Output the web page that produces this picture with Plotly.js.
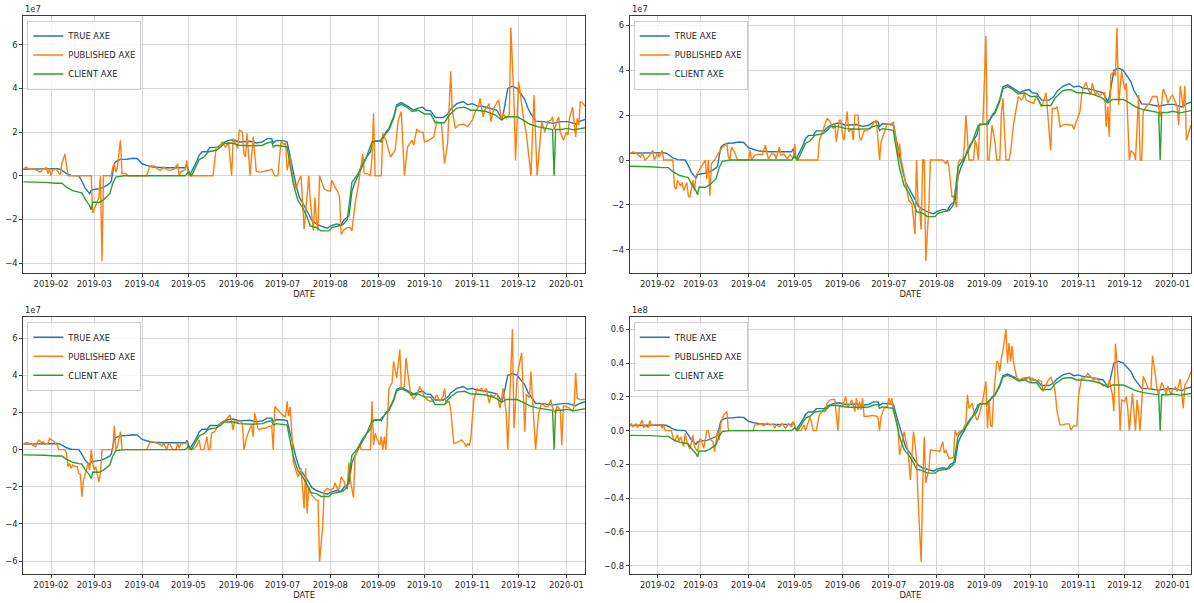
<!DOCTYPE html>
<html><head><meta charset="utf-8">
<script src="https://cdn.plot.ly/plotly-3.0.1.min.js"></script>
<style>html,body{margin:0;padding:0;background:#fff;}#chart{width:1194px;height:603px;}</style>
</head><body><div id="chart"></div>
<script>
// values in units of 1e7
const trueDates = ['2019-01-14','2019-01-21','2019-01-28','2019-02-05','2019-02-07','2019-02-11','2019-02-14','2019-02-19','2019-02-21','2019-02-23','2019-02-26','2019-02-27','2019-03-01','2019-03-05','2019-03-08','2019-03-11','2019-03-12','2019-03-14','2019-03-15','2019-03-18','2019-03-22','2019-03-26','2019-03-29','2019-04-01','2019-04-04','2019-04-08','2019-04-15','2019-04-22','2019-04-29','2019-04-30','2019-05-02','2019-05-06','2019-05-08','2019-05-10','2019-05-13','2019-05-15','2019-05-20','2019-05-23','2019-05-27','2019-05-30','2019-06-03','2019-06-10','2019-06-14','2019-06-18','2019-06-21','2019-06-24','2019-06-25','2019-06-27','2019-07-02','2019-07-04','2019-07-05','2019-07-08','2019-07-10','2019-07-12','2019-07-15','2019-07-18','2019-07-20','2019-07-23','2019-07-26','2019-07-30','2019-08-01','2019-08-05','2019-08-08','2019-08-10','2019-08-13','2019-08-15','2019-08-17','2019-08-19','2019-08-21','2019-08-23','2019-08-27','2019-08-29','2019-09-02','2019-09-03','2019-09-06','2019-09-08','2019-09-11','2019-09-13','2019-09-16','2019-09-18','2019-09-21','2019-09-24','2019-09-27','2019-09-30','2019-10-02','2019-10-05','2019-10-08','2019-10-13','2019-10-16','2019-10-18','2019-10-22','2019-10-26','2019-10-29','2019-11-01','2019-11-04','2019-11-08','2019-11-12','2019-11-17','2019-11-20','2019-11-21','2019-11-24','2019-11-27','2019-11-30','2019-12-02','2019-12-05','2019-12-07','2019-12-09','2019-12-12','2019-12-17','2019-12-23','2019-12-29','2020-01-02','2020-01-07','2020-01-10','2020-01-13'];
const trueValues = [0.30,0.32,0.33,0.33,0.30,0.10,0.02,0.00,-0.25,-0.55,-0.82,-0.65,-0.62,-0.58,-0.48,-0.35,-0.25,0.55,0.65,0.75,0.76,0.80,0.78,0.55,0.48,0.40,0.37,0.36,0.37,0.50,0.05,0.60,0.95,1.10,1.10,1.30,1.30,1.50,1.62,1.65,1.55,1.58,1.50,1.55,1.70,1.70,1.50,1.62,1.60,1.55,1.20,0.20,-0.50,-1.00,-1.35,-1.75,-2.05,-2.20,-2.30,-2.40,-2.30,-2.20,-2.25,-2.00,-1.85,-0.70,-0.30,0.00,0.45,0.70,1.10,1.60,1.60,1.55,2.00,2.17,2.70,3.25,3.35,3.25,3.14,3.00,3.10,3.14,3.00,2.97,2.67,2.67,2.83,3.05,3.30,3.40,3.25,3.30,3.20,3.17,3.10,3.00,2.60,2.80,4.00,4.10,4.00,3.80,3.50,3.10,2.83,2.50,2.48,2.40,2.48,2.48,2.37,2.50,2.58];

const clientDates = ['2019-01-14','2019-01-21','2019-01-28','2019-02-04','2019-02-08','2019-02-11','2019-02-15','2019-02-19','2019-02-21','2019-02-23','2019-02-26','2019-02-27','2019-02-28','2019-03-04','2019-03-07','2019-03-11','2019-03-13','2019-03-15','2019-03-20','2019-04-29','2019-05-01','2019-05-03','2019-05-06','2019-05-08','2019-05-11','2019-05-14','2019-05-19','2019-05-22','2019-05-24','2019-05-29','2019-06-03','2019-06-12','2019-06-18','2019-06-21','2019-06-24','2019-06-25','2019-06-27','2019-07-01','2019-07-04','2019-07-05','2019-07-08','2019-07-11','2019-07-14','2019-07-17','2019-07-19','2019-07-23','2019-07-26','2019-07-31','2019-08-02','2019-08-06','2019-08-09','2019-08-12','2019-08-15','2019-08-18','2019-08-21','2019-08-24','2019-08-28','2019-09-02','2019-09-05','2019-09-08','2019-09-11','2019-09-13','2019-09-16','2019-09-19','2019-09-23','2019-09-27','2019-10-01','2019-10-05','2019-10-08','2019-10-14','2019-10-17','2019-10-22','2019-10-27','2019-10-31','2019-11-04','2019-11-10','2019-11-16','2019-11-20','2019-11-23','2019-11-30','2019-12-04','2019-12-08','2019-12-13','2019-12-17','2019-12-23','2019-12-24','2019-12-25','2019-12-29','2020-01-01','2020-01-06','2020-01-10','2020-01-13'];
const clientValues = [-0.28,-0.28,-0.30,-0.34,-0.34,-0.52,-0.68,-0.75,-0.78,-1.06,-1.37,-1.55,-1.20,-1.22,-1.10,-0.83,-0.34,-0.06,0.00,0.00,0.17,0.00,0.48,0.74,0.86,1.10,1.17,1.32,1.48,1.50,1.40,1.37,1.40,1.50,1.55,1.32,1.40,1.37,1.32,0.86,-0.37,-1.14,-1.45,-1.90,-2.30,-2.37,-2.52,-2.52,-2.37,-2.30,-2.25,-2.00,-0.30,0.00,0.32,0.78,1.55,1.60,1.86,2.10,2.63,3.17,3.27,3.17,2.94,3.00,2.83,2.83,2.43,2.43,2.78,3.10,3.14,3.00,3.00,2.94,2.78,2.55,2.70,2.70,2.55,2.37,2.25,2.20,2.12,0.00,2.12,2.12,2.17,2.10,2.17,2.20];

const pub1Dates = ['2019-01-14','2019-01-16','2019-01-18','2019-01-20','2019-01-23','2019-01-25','2019-01-27','2019-01-29','2019-01-30','2019-01-31','2019-02-01','2019-02-02','2019-02-04','2019-02-06','2019-02-07','2019-02-08','2019-02-10','2019-02-12','2019-02-27','2019-02-28','2019-03-02','2019-03-03','2019-03-04','2019-03-05','2019-03-06','2019-03-07','2019-03-12','2019-03-13','2019-03-14','2019-03-15','2019-03-16','2019-03-18','2019-03-19','2019-03-21','2019-03-23','2019-04-04','2019-04-06','2019-04-09','2019-04-11','2019-04-13','2019-04-15','2019-04-17','2019-04-19','2019-04-22','2019-04-24','2019-04-25','2019-04-26','2019-04-28','2019-04-29','2019-04-30','2019-05-01','2019-05-17','2019-05-19','2019-05-21','2019-05-23','2019-05-25','2019-05-27','2019-05-29','2019-05-30','2019-06-02','2019-06-03','2019-06-05','2019-06-06','2019-06-07','2019-06-08','2019-06-10','2019-06-12','2019-06-14','2019-06-17','2019-06-20','2019-06-22','2019-06-24','2019-06-26','2019-06-28','2019-06-30','2019-07-02','2019-07-03','2019-07-04','2019-07-05','2019-07-06','2019-07-08','2019-07-10','2019-07-11','2019-07-13','2019-07-15','2019-07-16','2019-07-17','2019-07-18','2019-07-19','2019-07-21','2019-07-22','2019-07-23','2019-07-24','2019-07-25','2019-07-28','2019-07-30','2019-08-01','2019-08-02','2019-08-04','2019-08-06','2019-08-07','2019-08-08','2019-08-10','2019-08-12','2019-08-14','2019-08-15','2019-08-17','2019-08-19','2019-08-21','2019-08-22','2019-08-23','2019-08-25','2019-08-27','2019-08-28','2019-08-29','2019-08-30','2019-09-03','2019-09-04','2019-09-06','2019-09-09','2019-09-12','2019-09-14','2019-09-16','2019-09-18','2019-09-20','2019-09-23','2019-09-24','2019-09-26','2019-09-28','2019-09-30','2019-10-01','2019-10-04','2019-10-07','2019-10-09','2019-10-12','2019-10-14','2019-10-16','2019-10-18','2019-10-19','2019-10-21','2019-10-23','2019-10-26','2019-10-29','2019-11-01','2019-11-03','2019-11-05','2019-11-06','2019-11-08','2019-11-09','2019-11-12','2019-11-13','2019-11-15','2019-11-18','2019-11-20','2019-11-21','2019-11-23','2019-11-25','2019-11-26','2019-11-28','2019-11-29','2019-12-01','2019-12-02','2019-12-04','2019-12-06','2019-12-09','2019-12-11','2019-12-13','2019-12-15','2019-12-16','2019-12-18','2019-12-20','2019-12-22','2019-12-23','2019-12-24','2019-12-27','2019-12-28','2019-12-30','2020-01-01','2020-01-02','2020-01-03','2020-01-05','2020-01-07','2020-01-08','2020-01-09','2020-01-10','2020-01-12','2020-01-13'];
const pub1Values = [0.32,0.40,0.28,0.32,0.25,0.17,0.32,0.37,0.10,0.32,0.00,0.25,0.32,0.17,0.06,0.55,1.00,0.00,0.00,-1.70,-1.30,-1.10,-1.00,0.00,-3.90,0.00,0.00,0.40,0.55,0.17,0.40,1.63,0.10,0.12,0.00,0.00,0.45,0.45,0.30,0.25,0.40,0.28,0.25,0.32,0.55,0.00,0.17,0.25,0.30,0.70,0.00,0.00,1.30,1.30,1.55,1.30,1.55,0.00,1.70,1.25,2.10,2.00,1.00,0.86,1.94,0.00,1.80,0.20,0.17,0.22,0.25,0.30,0.00,0.00,1.55,1.45,1.50,0.25,0.60,0.86,-0.30,-0.60,-0.30,0.00,-2.45,-1.75,-0.85,0.00,-1.15,-2.50,-1.00,-2.10,-2.50,0.00,-0.60,-0.68,-0.70,-0.20,-0.52,-0.75,-1.00,-2.68,-2.45,-2.37,-2.37,-2.52,-1.30,-0.50,0.48,1.00,0.10,0.10,0.00,0.86,2.86,0.00,0.00,1.94,1.63,0.86,1.17,2.55,2.94,0.00,1.32,1.63,1.40,2.12,2.00,2.00,1.55,1.63,1.78,2.48,2.40,0.55,1.48,4.78,3.00,2.17,2.32,2.37,2.25,2.55,2.94,3.17,3.55,2.70,3.00,3.30,2.48,3.10,3.48,2.55,2.86,2.63,2.80,6.78,3.48,0.70,4.30,3.86,2.70,1.94,0.00,3.70,0.00,1.94,2.48,2.00,2.48,2.55,2.70,2.10,2.70,2.00,1.63,2.00,1.86,2.63,3.14,1.78,2.63,2.32,3.40,3.30,3.17];

const pub2Dates = ['2019-01-14','2019-01-16','2019-01-18','2019-01-21','2019-01-22','2019-01-24','2019-01-26','2019-01-28','2019-01-29','2019-01-30','2019-02-01','2019-02-02','2019-02-04','2019-02-05','2019-02-11','2019-02-12','2019-02-13','2019-02-14','2019-02-16','2019-02-17','2019-02-18','2019-02-20','2019-02-21','2019-02-22','2019-02-23','2019-02-24','2019-02-25','2019-02-26','2019-02-28','2019-03-02','2019-03-04','2019-03-05','2019-03-06','2019-03-07','2019-03-08','2019-03-10','2019-03-11','2019-03-13','2019-03-15','2019-03-17','2019-03-18','2019-03-19','2019-03-20','2019-03-21','2019-03-23','2019-03-25','2019-04-01','2019-04-02','2019-04-03','2019-04-05','2019-04-07','2019-04-10','2019-04-12','2019-04-13','2019-04-14','2019-04-16','2019-04-18','2019-04-19','2019-04-21','2019-04-22','2019-04-24','2019-04-26','2019-04-28','2019-04-30','2019-05-01','2019-05-02','2019-05-16','2019-05-17','2019-05-19','2019-05-22','2019-05-24','2019-05-26','2019-05-27','2019-05-28','2019-05-30','2019-05-31','2019-06-01','2019-06-02','2019-06-04','2019-06-05','2019-06-07','2019-06-08','2019-06-09','2019-06-11','2019-06-12','2019-06-13','2019-06-15','2019-06-17','2019-06-19','2019-06-21','2019-06-23','2019-06-25','2019-06-26','2019-06-28','2019-06-30','2019-07-02','2019-07-04','2019-07-06','2019-07-07','2019-07-08','2019-07-09','2019-07-10','2019-07-13','2019-07-14','2019-07-16','2019-07-18','2019-07-19','2019-07-20','2019-07-21','2019-07-22','2019-07-23','2019-07-24','2019-07-25','2019-07-27','2019-07-28','2019-08-05','2019-08-07','2019-08-08','2019-08-09','2019-08-11','2019-08-12','2019-08-14','2019-08-15','2019-08-16','2019-08-18','2019-08-19','2019-08-20','2019-08-21','2019-08-22','2019-08-25','2019-08-26','2019-08-27','2019-08-28','2019-08-29','2019-08-31','2019-09-02','2019-09-03','2019-09-04','2019-09-06','2019-09-08','2019-09-09','2019-09-11','2019-09-12','2019-09-13','2019-09-14','2019-09-15','2019-09-17','2019-09-18','2019-09-20','2019-09-22','2019-09-23','2019-09-25','2019-09-26','2019-09-27','2019-09-28','2019-09-30','2019-10-03','2019-10-05','2019-10-06','2019-10-08','2019-10-09','2019-10-11','2019-10-12','2019-10-14','2019-10-15','2019-10-17','2019-10-18','2019-10-19','2019-10-20','2019-10-22','2019-10-24','2019-10-26','2019-10-28','2019-10-29','2019-10-30','2019-11-02','2019-11-03','2019-11-04','2019-11-06','2019-11-07','2019-11-09','2019-11-10','2019-11-12','2019-11-13','2019-11-15','2019-11-17','2019-11-18','2019-11-19','2019-11-20','2019-11-21','2019-11-22','2019-11-24','2019-11-25','2019-11-26','2019-11-27','2019-11-29','2019-12-01','2019-12-02','2019-12-04','2019-12-05','2019-12-07','2019-12-08','2019-12-10','2019-12-11','2019-12-12','2019-12-13','2019-12-15','2019-12-17','2019-12-19','2019-12-21','2019-12-22','2019-12-24','2019-12-25','2019-12-26','2019-12-28','2019-12-29','2019-12-31','2020-01-01','2020-01-04','2020-01-05','2020-01-06','2020-01-08','2020-01-09','2020-01-10','2020-01-13'];
const pub2Values = [0.28,0.36,0.32,0.13,0.30,0.00,0.13,0.36,0.43,0.00,0.30,0.13,0.43,0.00,0.00,-1.20,-1.30,-0.90,-1.15,-1.00,-1.36,-1.00,-1.60,-1.66,-1.20,-0.90,-1.36,-0.70,-0.46,-0.24,0.00,-0.84,0.00,-1.60,-0.16,0.00,0.13,0.36,0.58,0.66,0.73,0.13,0.00,0.58,0.36,0.00,0.00,0.43,0.00,0.21,0.25,0.25,0.66,0.28,0.06,0.28,0.25,0.06,0.58,0.21,0.28,0.06,0.25,0.06,0.70,0.00,0.00,0.88,1.26,1.86,1.70,1.40,1.63,0.81,1.78,1.78,1.10,0.88,2.16,1.26,1.40,0.88,2.00,2.00,1.03,0.88,1.30,1.33,1.40,1.63,1.78,0.00,0.81,1.18,1.63,1.56,1.70,0.80,0.13,0.73,-0.02,-0.30,-1.44,-1.80,-1.95,-3.30,0.00,-1.95,-2.10,-3.10,0.00,0.00,-4.50,-2.10,0.00,0.00,-0.15,0.00,-0.30,-1.66,-1.60,-2.10,-0.15,0.00,0.00,0.58,2.00,0.73,0.00,0.00,0.88,0.66,0.00,1.60,1.60,5.53,0.00,0.00,1.56,0.73,0.00,0.00,2.08,2.76,1.19,0.00,0.00,0.36,1.63,2.53,2.83,2.68,2.76,3.00,2.68,2.60,2.53,2.90,2.68,2.38,2.53,3.00,2.23,0.43,2.30,2.30,2.38,2.08,1.48,1.56,1.60,1.56,1.56,1.36,1.60,2.16,2.83,3.20,3.46,3.20,2.90,3.43,2.90,3.00,2.88,3.00,3.00,1.48,2.38,1.03,3.80,3.95,3.73,5.90,2.46,3.96,3.13,3.43,0.00,0.43,0.28,0.00,2.90,0.00,0.00,2.16,2.38,2.53,2.83,2.83,2.83,1.93,2.68,3.16,2.83,2.53,2.83,2.90,2.38,1.56,3.30,2.31,3.30,0.88,1.56];

const pub3Dates = ['2019-01-14','2019-01-16','2019-01-18','2019-01-20','2019-01-22','2019-01-23','2019-01-24','2019-01-26','2019-01-27','2019-01-28','2019-01-30','2019-01-31','2019-02-01','2019-02-03','2019-02-05','2019-02-06','2019-02-10','2019-02-11','2019-02-12','2019-02-13','2019-02-14','2019-02-15','2019-02-16','2019-02-18','2019-02-19','2019-02-20','2019-02-21','2019-02-22','2019-02-24','2019-02-25','2019-02-26','2019-02-27','2019-02-28','2019-03-01','2019-03-02','2019-03-04','2019-03-05','2019-03-06','2019-03-13','2019-03-14','2019-03-15','2019-03-16','2019-03-18','2019-03-19','2019-04-04','2019-04-06','2019-04-08','2019-04-10','2019-04-12','2019-04-14','2019-04-15','2019-04-16','2019-04-17','2019-04-18','2019-04-19','2019-04-21','2019-04-23','2019-04-24','2019-04-25','2019-04-26','2019-04-28','2019-04-29','2019-04-30','2019-05-01','2019-05-04','2019-05-06','2019-05-08','2019-05-09','2019-05-11','2019-05-13','2019-05-14','2019-05-15','2019-05-16','2019-05-18','2019-05-20','2019-05-22','2019-05-24','2019-05-27','2019-05-28','2019-05-29','2019-05-30','2019-05-31','2019-06-02','2019-06-03','2019-06-05','2019-06-06','2019-06-08','2019-06-10','2019-06-11','2019-06-12','2019-06-13','2019-06-14','2019-06-15','2019-06-16','2019-06-18','2019-06-20','2019-06-22','2019-06-24','2019-06-25','2019-06-26','2019-06-29','2019-07-01','2019-07-03','2019-07-04','2019-07-05','2019-07-06','2019-07-07','2019-07-08','2019-07-10','2019-07-11','2019-07-13','2019-07-15','2019-07-16','2019-07-17','2019-07-18','2019-07-20','2019-07-23','2019-07-24','2019-07-25','2019-07-27','2019-07-28','2019-07-30','2019-08-01','2019-08-03','2019-08-04','2019-08-06','2019-08-07','2019-08-08','2019-08-10','2019-08-11','2019-08-12','2019-08-13','2019-08-14','2019-08-16','2019-08-17','2019-08-19','2019-08-20','2019-08-21','2019-08-27','2019-08-28','2019-08-29','2019-08-30','2019-08-31','2019-09-02','2019-09-03','2019-09-04','2019-09-05','2019-09-06','2019-09-07','2019-09-08','2019-09-10','2019-09-11','2019-09-13','2019-09-14','2019-09-15','2019-09-16','2019-09-18','2019-09-19','2019-09-21','2019-09-22','2019-09-24','2019-09-26','2019-09-28','2019-10-01','2019-10-03','2019-10-05','2019-10-07','2019-10-09','2019-10-11','2019-10-13','2019-10-14','2019-10-15','2019-10-17','2019-10-18','2019-10-19','2019-10-20','2019-10-22','2019-10-25','2019-10-27','2019-10-28','2019-10-29','2019-10-30','2019-10-31','2019-11-02','2019-11-04','2019-11-05','2019-11-07','2019-11-08','2019-11-10','2019-11-12','2019-11-13','2019-11-15','2019-11-17','2019-11-19','2019-11-21','2019-11-23','2019-11-24','2019-11-25','2019-11-27','2019-11-28','2019-11-30','2019-12-01','2019-12-03','2019-12-05','2019-12-06','2019-12-08','2019-12-09','2019-12-12','2019-12-14','2019-12-16','2019-12-18','2019-12-20','2019-12-22','2019-12-23','2019-12-25','2019-12-26','2019-12-28','2019-12-29','2019-12-30','2020-01-01','2020-01-03','2020-01-05','2020-01-06','2020-01-07','2020-01-08','2020-01-10','2020-01-13'];
const pub3Values = [0.29,0.38,0.34,0.25,0.16,0.38,0.52,0.38,0.43,0.30,0.34,0.60,0.56,0.43,0.25,0.00,0.00,-0.20,-0.92,-0.74,-1.01,-0.83,-0.88,-0.92,-1.28,-1.33,-2.54,-1.64,-1.10,-0.74,-1.10,0.00,-0.74,-1.10,-0.92,-1.73,-1.28,0.00,0.00,1.28,0.00,0.16,0.97,0.00,0.00,0.38,0.43,0.38,0.30,0.20,0.34,0.16,0.00,0.30,0.30,0.00,0.00,0.34,0.07,0.30,0.30,0.34,0.43,0.00,0.00,0.16,0.52,0.00,0.00,0.70,0.00,0.00,0.88,0.97,1.24,1.42,1.51,1.75,1.87,1.51,1.06,1.60,1.46,1.57,1.42,0.00,0.74,1.15,1.33,0.70,1.96,1.60,1.15,1.06,1.15,1.15,1.24,1.28,0.00,2.32,2.05,1.87,1.75,2.60,1.80,2.30,0.90,-0.65,-1.20,-1.46,-1.01,-3.17,-1.01,-3.44,-1.98,-2.45,-2.72,-2.72,-6.05,-4.16,-2.27,-2.09,-2.18,-2.09,-1.78,-2.18,-2.00,-1.46,-1.73,-2.09,-2.09,-0.70,-1.64,-2.58,-0.38,0.16,0.34,0.00,0.00,2.60,0.25,0.88,0.61,0.25,0.70,0.00,0.70,0.00,1.42,3.30,3.60,4.76,3.86,4.49,5.39,3.30,3.40,4.94,3.60,2.95,2.74,2.95,3.40,2.86,2.68,2.60,2.68,2.95,2.60,2.86,3.30,2.50,2.60,2.15,1.24,0.34,0.38,0.52,0.34,0.16,0.34,0.20,0.61,2.68,3.30,3.21,3.30,3.12,3.30,2.50,2.95,2.86,3.04,2.23,3.30,1.96,0.00,2.05,6.50,1.15,3.77,4.40,5.20,0.97,3.00,2.80,4.20,0.00,1.96,2.50,2.32,2.32,2.68,2.23,1.96,2.36,2.14,0.25,2.36,2.32,2.23,2.05,2.32,4.13,2.77,2.68,2.72];

const pub4Dates = ['2019-01-14','2019-01-15','2019-01-16','2019-01-18','2019-01-19','2019-01-21','2019-01-22','2019-01-23','2019-01-24','2019-01-26','2019-01-27','2019-01-28','2019-01-30','2019-02-01','2019-02-03','2019-02-04','2019-02-05','2019-02-06','2019-02-10','2019-02-11','2019-02-12','2019-02-14','2019-02-15','2019-02-16','2019-02-18','2019-02-19','2019-02-20','2019-02-22','2019-02-23','2019-02-24','2019-02-25','2019-02-27','2019-02-28','2019-03-01','2019-03-03','2019-03-05','2019-03-06','2019-03-07','2019-03-09','2019-03-10','2019-03-12','2019-03-13','2019-03-14','2019-03-15','2019-03-16','2019-03-18','2019-03-19','2019-04-04','2019-04-05','2019-04-07','2019-04-09','2019-04-11','2019-04-13','2019-04-15','2019-04-17','2019-04-18','2019-04-19','2019-04-21','2019-04-23','2019-04-25','2019-04-27','2019-04-29','2019-04-30','2019-05-02','2019-05-05','2019-05-07','2019-05-08','2019-05-09','2019-05-11','2019-05-13','2019-05-15','2019-05-17','2019-05-19','2019-05-21','2019-05-22','2019-05-24','2019-05-25','2019-05-27','2019-05-29','2019-05-30','2019-06-01','2019-06-02','2019-06-03','2019-06-04','2019-06-05','2019-06-07','2019-06-08','2019-06-09','2019-06-10','2019-06-11','2019-06-12','2019-06-13','2019-06-14','2019-06-15','2019-06-18','2019-06-20','2019-06-23','2019-06-24','2019-06-25','2019-06-26','2019-06-28','2019-06-30','2019-07-01','2019-07-02','2019-07-03','2019-07-04','2019-07-06','2019-07-07','2019-07-08','2019-07-09','2019-07-11','2019-07-12','2019-07-13','2019-07-14','2019-07-15','2019-07-16','2019-07-17','2019-07-18','2019-07-19','2019-07-20','2019-07-22','2019-07-23','2019-07-24','2019-07-25','2019-07-27','2019-07-28','2019-07-29','2019-08-01','2019-08-03','2019-08-04','2019-08-05','2019-08-06','2019-08-07','2019-08-09','2019-08-11','2019-08-12','2019-08-13','2019-08-14','2019-08-16','2019-08-18','2019-08-20','2019-08-21','2019-08-22','2019-08-23','2019-08-24','2019-08-25','2019-08-27','2019-08-28','2019-08-30','2019-08-31','2019-09-02','2019-09-03','2019-09-04','2019-09-05','2019-09-06','2019-09-07','2019-09-09','2019-09-10','2019-09-11','2019-09-12','2019-09-13','2019-09-15','2019-09-16','2019-09-17','2019-09-18','2019-09-19','2019-09-20','2019-09-22','2019-09-24','2019-09-26','2019-09-28','2019-09-30','2019-10-01','2019-10-02','2019-10-05','2019-10-06','2019-10-08','2019-10-09','2019-10-11','2019-10-12','2019-10-14','2019-10-16','2019-10-17','2019-10-18','2019-10-20','2019-10-22','2019-10-24','2019-10-26','2019-10-27','2019-10-29','2019-10-31','2019-11-01','2019-11-03','2019-11-05','2019-11-07','2019-11-09','2019-11-11','2019-11-13','2019-11-15','2019-11-17','2019-11-18','2019-11-20','2019-11-21','2019-11-23','2019-11-24','2019-11-25','2019-11-27','2019-11-28','2019-11-29','2019-12-01','2019-12-02','2019-12-03','2019-12-04','2019-12-06','2019-12-07','2019-12-08','2019-12-09','2019-12-10','2019-12-11','2019-12-13','2019-12-15','2019-12-16','2019-12-18','2019-12-19','2019-12-21','2019-12-22','2019-12-23','2019-12-25','2019-12-27','2019-12-28','2019-12-29','2019-12-31','2020-01-01','2020-01-03','2020-01-04','2020-01-05','2020-01-06','2020-01-08','2020-01-09','2020-01-11','2020-01-13'];
const pub4Values = [0.28,0.40,0.24,0.40,0.20,0.40,0.63,0.20,0.28,0.20,0.60,0.28,0.34,0.34,0.34,0.14,0.34,0.00,0.00,-0.36,-0.65,-0.26,-0.65,-0.36,-0.95,-0.16,-0.65,-1.11,-0.75,-0.26,-0.95,-1.25,-0.65,-0.46,-1.05,0.00,0.00,-0.51,-0.65,-1.25,0.00,-0.55,0.40,0.73,0.93,1.13,0.00,0.00,0.34,0.34,0.40,0.28,0.44,0.34,0.40,0.14,0.34,0.24,0.40,0.14,0.40,0.24,0.53,0.00,0.00,0.34,0.00,0.28,0.83,0.00,0.00,0.93,1.13,1.13,1.62,1.82,1.82,1.86,0.00,1.43,1.43,1.82,2.02,1.43,1.43,1.82,1.52,1.13,1.92,1.23,1.72,1.23,1.92,0.85,0.85,0.90,0.85,0.80,0.00,0.83,1.33,1.43,1.92,1.62,1.92,1.13,0.63,0.14,-1.45,-0.95,-0.06,-0.55,-0.95,-1.74,-2.93,-1.54,-0.06,-0.75,-1.74,-4.10,-7.78,-3.14,-0.36,-3.10,-2.30,-1.15,-1.15,-1.19,-1.25,-0.95,-0.65,-1.34,-1.15,-1.64,-1.64,-1.54,0.00,-0.26,-0.06,0.04,0.44,2.12,1.33,1.43,1.62,1.23,0.63,0.73,1.43,1.82,2.91,0.14,1.82,0.28,0.24,2.02,4.10,4.00,3.50,4.30,4.70,6.02,4.00,5.19,4.10,5.00,4.00,3.11,3.01,3.11,3.01,3.17,2.87,3.11,2.91,3.01,2.91,2.32,2.71,2.91,3.17,2.71,2.22,1.23,0.34,0.34,0.40,0.40,0.04,0.28,0.28,2.02,3.11,3.11,3.37,3.17,3.01,3.11,2.81,2.65,2.71,2.57,3.01,2.12,1.13,5.15,2.81,0.00,1.82,1.72,2.02,1.23,0.00,2.22,0.93,0.00,1.82,1.13,0.00,3.21,2.81,2.51,2.46,4.44,3.21,2.42,2.12,2.85,2.42,2.12,2.65,2.12,2.42,2.57,2.32,2.61,3.05,1.33,2.71,3.01,3.50];

const seriesNames = ['TRUE AXE','PUBLISHED AXE','CLIENT AXE'];
const seriesColors = ['#1f77b4','#ff7f0e','#2ca02c'];
const publishedDates = [pub1Dates, pub2Dates, pub3Dates, pub4Dates];
const publishedValues = [pub1Values, pub2Values, pub3Values, pub4Values];
const offsetLabels = ['1e7','1e7','1e7','1e8'];
const p4TickVals = [-8,-6,-4,-2,0,2,4,6];
const p4TickText = ['\u22120.8','\u22120.6','\u22120.4','\u22120.2','0.0','0.2','0.4','0.6'];

const FONT = 'DejaVu Sans';
const FS = 8.4;
const traces = [];
for (let k = 0; k < 4; k++) {
  const xa = k === 0 ? 'x' : 'x' + (k + 1);
  const ya = k === 0 ? 'y' : 'y' + (k + 1);
  const lg = k === 0 ? 'legend' : 'legend' + (k + 1);
  const sets = [[trueDates, trueValues], [publishedDates[k], publishedValues[k]], [clientDates, clientValues]];
  sets.forEach((s, i) => {
    traces.push({x: s[0], y: s[1], type: 'scatter', mode: 'lines', name: seriesNames[i],
      line: {color: seriesColors[i], width: 1.4}, xaxis: xa, yaxis: ya, legend: lg, hoverinfo: 'skip'});
  });
}

function autoRange(k) {
  let all = trueValues.concat(clientValues, publishedValues[k]);
  const mn = Math.min(...all), mx = Math.max(...all), pad = (mx - mn) * 0.05;
  return [mn - pad, mx + pad];
}

const xDom = [[0.0195, 0.4899], [0.5274, 0.9975]];
const yDom = [[0.5478, 0.9735], [0.0487, 0.4738]];
const axisStyle = {showgrid: true, gridcolor: '#d6d6d6', gridwidth: 1, showline: true, mirror: true,
  linecolor: '#3a3a3a', linewidth: 1, ticks: 'outside', ticklen: 3, tickwidth: 1, tickcolor: '#3a3a3a',
  zeroline: false, tickfont: {family: FONT, size: FS, color: '#262626'}, automargin: false};

const layout = {width: 1194, height: 603, margin: {l: 0, r: 0, t: 0, b: 0},
  paper_bgcolor: '#fff', plot_bgcolor: '#fff', font: {family: FONT, size: FS, color: '#262626'},
  hovermode: false, annotations: []};

for (let k = 0; k < 4; k++) {
  const col = k % 2, row = Math.floor(k / 2);
  const sfx = k === 0 ? '' : String(k + 1);
  layout['xaxis' + sfx] = Object.assign({}, axisStyle, {type: 'date', domain: xDom[col],
    anchor: 'y' + sfx, range: ['2019-01-14', '2020-01-13'], tickformat: '%Y-%m', dtick: 'M1', tick0: '2019-01-01',
    title: {text: 'DATE', font: {family: FONT, size: FS, color: '#262626'}, standoff: 1}});
  const ya = Object.assign({}, axisStyle, {domain: yDom[row], anchor: 'x' + sfx, range: autoRange(k)});
  if (k === 3) { ya.tickmode = 'array'; ya.tickvals = p4TickVals; ya.ticktext = p4TickText; }
  else { ya.dtick = 2; ya.tick0 = 0; }
  layout['yaxis' + sfx] = ya;
  layout[k === 0 ? 'legend' : 'legend' + (k + 1)] = {x: xDom[col][0] + 0.0034, y: yDom[row][1] - 0.0075,
    xanchor: 'left', yanchor: 'top', bgcolor: 'rgba(255,255,255,0.8)', bordercolor: '#cccccc', borderwidth: 1,
    font: {family: FONT, size: FS, color: '#262626'}, itemwidth: 30, tracegroupgap: 0};
  layout.annotations.push({xref: 'x' + sfx + ' domain', yref: 'y' + sfx + ' domain', x: 0, y: 1,
    xanchor: 'left', yanchor: 'bottom', yshift: 0, showarrow: false, text: offsetLabels[k],
    font: {family: FONT, size: FS, color: '#262626'}});
}

Plotly.newPlot('chart', traces, layout, {staticPlot: true, displayModeBar: false});
</script></body></html>
